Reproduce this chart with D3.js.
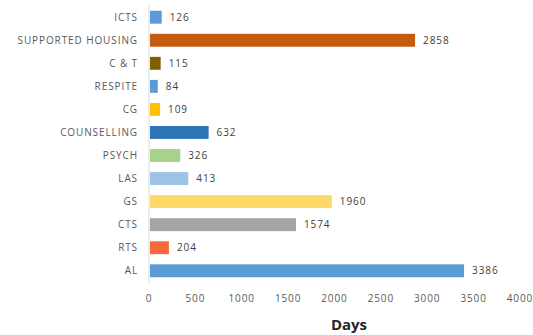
<!DOCTYPE html>
<html>
<head>
<meta charset="utf-8">
<script src="https://cdn.jsdelivr.net/npm/d3@7"></script>
<style>
  body { margin: 0; background: #fff; }
  text { font-family: "Open Sans", "DejaVu Sans", sans-serif; }
</style>
</head>
<body>
<div id="chart"></div>
<script>
// categories top to bottom
var categories = ["ICTS", "SUPPORTED HOUSING", "C & T", "RESPITE", "CG", "COUNSELLING",
  "PSYCH", "LAS", "GS", "CTS", "RTS", "AL"];
var days = [126, 2858, 115, 84, 109, 632, 326, 413, 1960, 1574, 204, 3386];
var barColors = ["#5b9bd5", "#c55a11", "#7f6000", "#5b9bd5", "#ffc000", "#2e75b6",
  "#a9d18e", "#9dc3e6", "#ffd966", "#a5a5a5", "#f5693a", "#5b9bd5"];
var xTicks = [0, 500, 1000, 1500, 2000, 2500, 3000, 3500, 4000];

var width = 533, height = 335;
var margin = {top: 5, right: 13, bottom: 52, left: 149};

var svg = d3.select("#chart").append("svg")
  .attr("width", width)
  .attr("height", height);

var x = d3.scaleLinear().domain([0, 4000]).range([margin.left, width - margin.right]);
var y = d3.scaleBand().domain(categories)
  .range([margin.top, height - margin.bottom])
  .paddingInner(0.44).paddingOuter(0.25);

// vertical axis line
svg.append("line")
  .attr("x1", x(0)).attr("x2", x(0))
  .attr("y1", margin.top).attr("y2", height - margin.bottom)
  .style("stroke", "#d9d9d9");

// category labels
svg.selectAll(".cat")
  .data(categories).enter()
  .append("text")
  .attr("class", "cat")
  .attr("x", x(0) - 11)
  .attr("y", function(d){ return y(d) + y.bandwidth() / 2; })
  .attr("dy", "0.35em")
  .style("text-anchor", "end")
  .style("font-size", "10px")
  .style("letter-spacing", "0.9px")
  .style("fill", "#595959")
  .text(function(d){ return d; });

// bars
svg.selectAll(".bar")
  .data(days).enter()
  .append("rect")
  .attr("class", "bar")
  .attr("x", x(0) + 1)
  .attr("y", function(d, i){ return y(categories[i]); })
  .attr("width", function(d){ return x(d) - x(0); })
  .attr("height", y.bandwidth())
  .style("fill", function(d, i){ return barColors[i]; });

// value labels
svg.selectAll(".val")
  .data(days).enter()
  .append("text")
  .attr("class", "val")
  .attr("x", function(d){ return x(d) + 9; })
  .attr("y", function(d, i){ return y(categories[i]) + y.bandwidth() / 2; })
  .attr("dy", "0.35em")
  .style("font-size", "10px")
  .style("letter-spacing", "0.9px")
  .style("fill", "#404040")
  .text(function(d){ return d; });

// x tick labels
svg.selectAll(".tick")
  .data(xTicks).enter()
  .append("text")
  .attr("class", "tick")
  .attr("x", function(d){ return x(d); })
  .attr("y", 298)
  .attr("dy", "0.35em")
  .style("text-anchor", "middle")
  .style("font-size", "10px")
  .style("letter-spacing", "0.9px")
  .style("fill", "#595959")
  .text(function(d){ return d; });

svg.append("text")
  .attr("x", 349)
  .attr("y", 325)
  .attr("dy", "0.35em")
  .style("text-anchor", "middle")
  .style("font-size", "15px")
  .style("font-weight", "bold")
  .style("fill", "#262626")
  .text("Days");
</script>
</body>
</html>
